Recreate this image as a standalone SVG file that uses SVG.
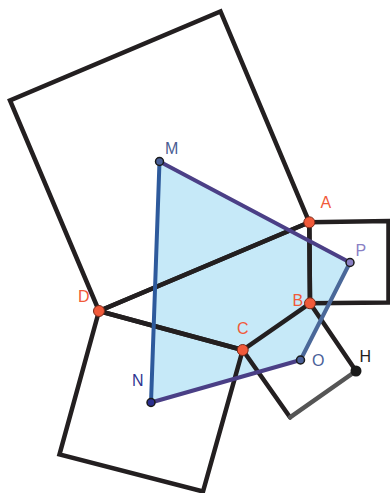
<svg xmlns="http://www.w3.org/2000/svg" width="390" height="493" viewBox="0 0 390 493">
<style>
.sq{fill:none;stroke:#231f20;stroke-width:4.5;stroke-linejoin:miter;stroke-linecap:round}
.seg{stroke-width:4;stroke-linecap:round;fill:none}
.vtx{fill:#f15a3a;stroke:#7a2a1a;stroke-width:1}
.ctr{stroke:#1a1a1a;stroke-width:1.5}
text{font-family:"Liberation Sans",Arial,sans-serif;font-size:16px}
.red{fill:#f15a3a}
</style>
<rect width="390" height="493" fill="#ffffff"/>
<g id="fill">
<polygon points="159.5,161.5 350,262.5 300.5,360 151,402.5" fill="#c6e9f8"/>
</g>
<g id="connectors">
<polygon class="sq" points="309.3,222.3 99,311 10,100.5 220.5,11.5"/>
<polygon class="sq" points="309.3,222.3 388.5,221 388.5,302.5 310,303.3"/>
<polygon class="sq" points="242.7,350 99,311 59.5,454.5 203,491.5"/>
<polyline class="sq" points="310,303.3 356,371"/>
<polyline class="sq" points="242.7,350 290,417.3"/>
<line x1="290" y1="417.3" x2="356" y2="371" stroke="#555555" stroke-width="4.5" stroke-linecap="round"/>
<polyline class="sq" points="99,311 309.3,222.3 310,303.3 242.7,350 99,311"/>
<line class="seg" x1="159.5" y1="161.5" x2="151" y2="402.5" stroke="#2e5a9c"/>
<line class="seg" x1="159.5" y1="161.5" x2="350" y2="262.5" stroke="#4b3f86"/>
<line class="seg" x1="350" y1="262.5" x2="300.5" y2="360" stroke="#4a6899"/>
<line class="seg" x1="300.5" y1="360" x2="151" y2="402.5" stroke="#4a3f86"/>
</g>
<g id="node-A"><circle class="vtx" cx="309.3" cy="222.3" r="5.5"/><text class="red" x="320.5" y="207.5">A</text></g>
<g id="node-B"><circle class="vtx" cx="310" cy="303.3" r="5.5"/><text class="red" x="292.5" y="305.5">B</text></g>
<g id="node-C"><circle class="vtx" cx="242.7" cy="350" r="5.5"/><text class="red" x="237" y="333.5">C</text></g>
<g id="node-D"><circle class="vtx" cx="99" cy="311" r="5.5"/><text class="red" x="78" y="302">D</text></g>
<g id="node-M"><circle class="ctr" cx="159.5" cy="161.5" r="4" fill="#4a6099"/><text fill="#4a5d93" x="165" y="153.5">M</text></g>
<g id="node-P"><circle class="ctr" cx="350" cy="262.5" r="4" fill="#8a80c4"/><text fill="#8a80c4" x="355.5" y="255.5">P</text></g>
<g id="node-O"><circle class="ctr" cx="300.5" cy="360" r="4" fill="#4a6099"/><text fill="#4a6099" x="312" y="365.5">O</text></g>
<g id="node-N"><circle class="ctr" cx="151" cy="402.5" r="4" fill="#2b2f8f"/><text fill="#2f3591" x="132" y="386">N</text></g>
<g id="node-H"><circle cx="356" cy="371" r="5.5" fill="#1a1a1a"/><text fill="#231f20" x="359.5" y="362">H</text></g>
</svg>
